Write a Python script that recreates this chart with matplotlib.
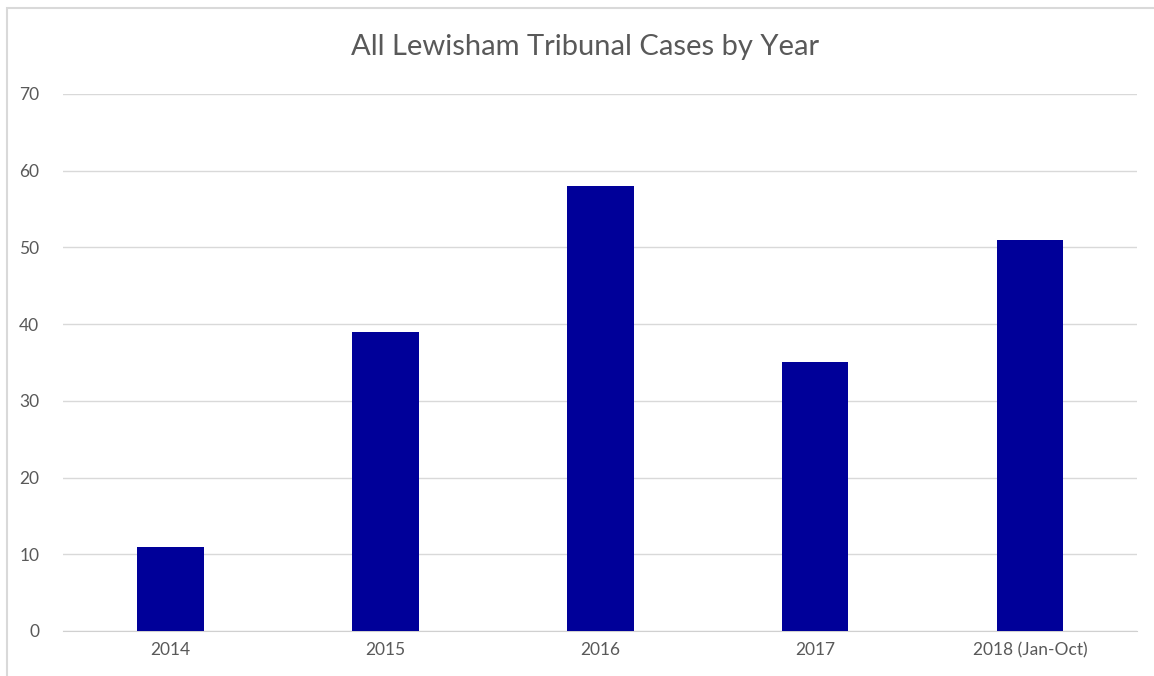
import numpy as np
import matplotlib.pyplot as plt
from matplotlib.patches import Rectangle

plt.rcParams['font.family'] = ['Lato', 'DejaVu Sans']

years = ['2014', '2015', '2016', '2017', '2018 (Jan-Oct)']
cases = [11, 39, 58, 35, 51]
yticks = [0, 10, 20, 30, 40, 50, 60, 70]

fig = plt.figure(figsize=(11.54, 6.76), dpi=100)
ax = fig.add_axes([0.0546, 0.0666, 0.9311, 0.7944])

# light grey frame round the chart area
fig.patches.append(Rectangle((7 / 1154, -0.1), 1.2, 1.1 - 8 / 676, transform=fig.transFigure,
                             fill=False, edgecolor='#d9d9d9', linewidth=1.5))

x = np.arange(len(years))
ax.bar(x, cases, width=0.31, color='#000099', zorder=3)

ax.set_xlim(-0.5, len(years) - 0.5)
ax.set_ylim(0, 70)
ax.set_yticks(yticks)
ax.set_xticks(x)
ax.set_xticklabels(years)
ax.grid(axis='y', color='#d9d9d9', linewidth=1, zorder=0)
for s in ['top', 'right', 'left']:
    ax.spines[s].set_visible(False)
ax.spines['bottom'].set_color('#d0d0d0')
ax.tick_params(axis='both', length=0, labelsize=12.5, labelcolor='#595959')
ax.tick_params(axis='y', pad=17)
ax.tick_params(axis='x', pad=8)

fig.text(0.507, 0.931, 'All Lewisham Tribunal Cases by Year', ha='center', va='center',
         fontsize=21, color='#595959')

fig.savefig('out.png', dpi=100)
